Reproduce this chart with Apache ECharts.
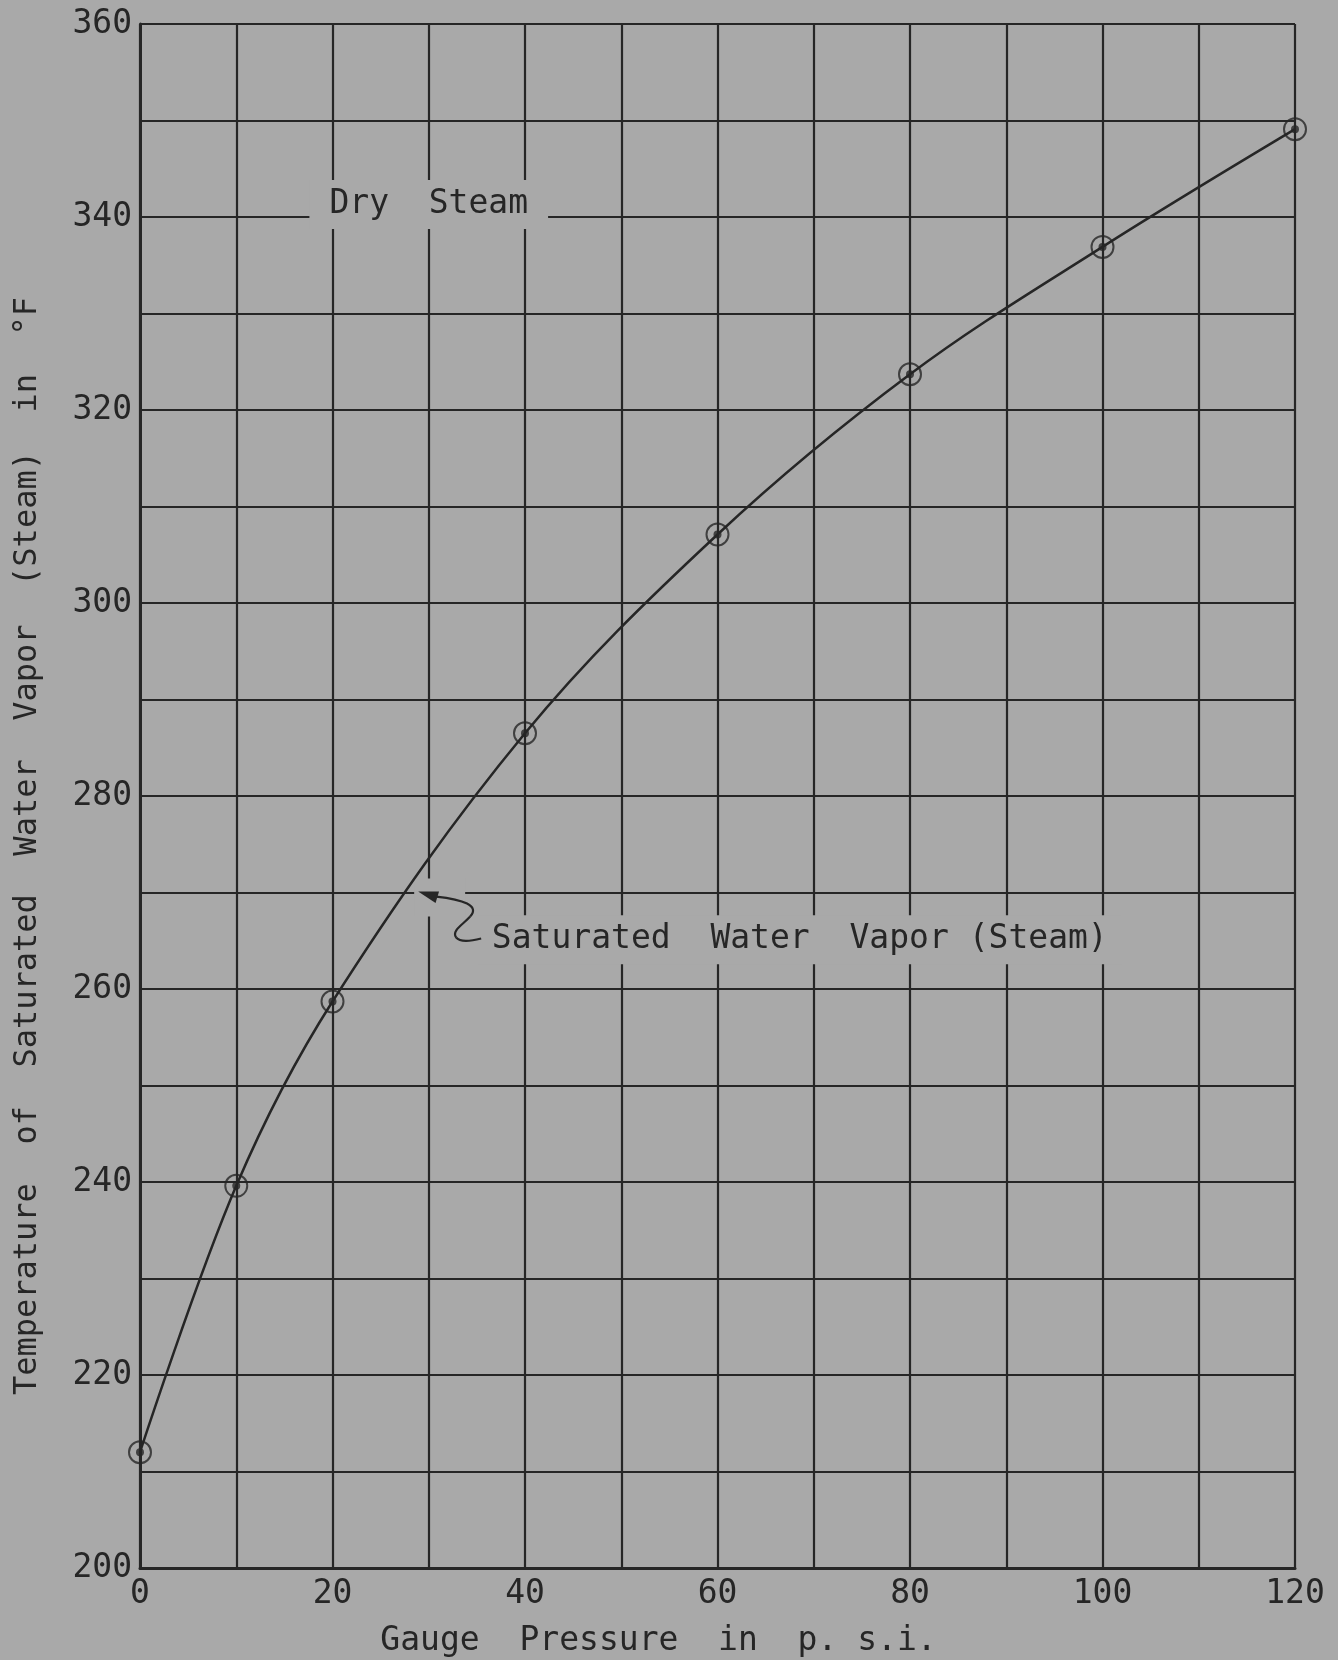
<!DOCTYPE html>
<html>
<head>
<meta charset="utf-8">
<title>Saturated Water Vapor</title>
<script src="https://cdn.jsdelivr.net/npm/echarts@6/dist/echarts.min.js"></script>
<style>
  html, body { margin: 0; padding: 0; background: #a9a9a9; }
  #chart { width: 1338px; height: 1660px; }
</style>
</head>
<body>
<div id="chart"></div>
<script>
// ---- data ----
const pressure = [0, 10, 20, 40, 60, 80, 100, 120];               // gauge pressure, p.s.i.
const temperature = [212, 239.6, 258.7, 286.5, 307.1, 323.7, 336.9, 349.1]; // deg F
const xTickValues = [0, 20, 40, 60, 80, 100, 120];
const yTickValues = [200, 220, 240, 260, 280, 300, 320, 340, 360];
const xTitle = 'Gauge  Pressure  in  p. s.i.';
const yTitle = 'Temperature  of  Saturated  Water  Vapor  (Steam)  in  °F';
const dryLabel = 'Dry  Steam';
const satLabel = 'Saturated  Water  Vapor (Steam)';

// annotation anchors (data coordinates)
const dryAnchor = [30, 341.3];
const satAnchor = [35.1, 265.1];
const arrowTip = [28.9, 270.1];

const ink = '#262626';
const paper = '#a9a9a9';
const font = '"DejaVu Sans Mono", "Liberation Mono", monospace';

const points = pressure.map((p, i) => [p, temperature[i]]);

const chart = echarts.init(document.getElementById('chart'), null, { renderer: 'canvas' });

const option = {
  backgroundColor: paper,
  animation: false,
  grid: { left: 140, right: 43, top: 24, bottom: 92, containLabel: false },
  xAxis: {
    type: 'value', min: 0, max: 120, interval: 10,
    axisLine: { show: true, onZero: false, lineStyle: { color: ink, width: 3 } },
    axisTick: { show: false },
    splitLine: { show: true, lineStyle: { color: ink, width: 2.2 } },
    axisLabel: {
      margin: 10, color: ink, fontFamily: font, fontSize: 33,
      formatter: v => (xTickValues.indexOf(v) >= 0 ? String(v) : '')
    }
  },
  yAxis: {
    type: 'value', min: 200, max: 360, interval: 10,
    axisLine: { show: true, onZero: false, lineStyle: { color: ink, width: 3 } },
    axisTick: { show: false },
    splitLine: { show: true, lineStyle: { color: ink, width: 2.2 } },
    axisLabel: {
      margin: 8, color: ink, fontFamily: font, fontSize: 33,
      formatter: v => (yTickValues.indexOf(v) >= 0 ? String(v) : '')
    }
  },
  series: [
    {
      type: 'line', data: points, smooth: 0.35,
      symbol: 'none', z: 5,
      lineStyle: { color: ink, width: 2.5 }
    },
    {
      type: 'scatter', data: points, symbol: 'circle', symbolSize: 22, z: 6,
      itemStyle: { color: 'rgba(0,0,0,0)', borderColor: ink, borderWidth: 2 }
    },
    {
      type: 'scatter', data: points, symbol: 'circle', symbolSize: 8, z: 7,
      itemStyle: { color: ink }
    }
  ]
};

chart.setOption(option);

function px(pt) { return chart.convertToPixel({ gridIndex: 0 }, pt); }

const dry = px(dryAnchor);
const sat = px(satAnchor);
const tip = px(arrowTip);
const plotLeft = px([0, 200]);
const plotRight = px([120, 360]);
const plotMidX = (plotLeft[0] + plotRight[0]) / 2;

// arrow head direction (from shaft toward tip)
const dirx = 0.957, diry = 0.29;
const hb = [tip[0] + 20 * dirx, tip[1] + 20 * diry];
const hp = [-diry * 6, dirx * 6];

function curve(a, c1, c2, b) {
  return { type: 'bezierCurve', z: 3,
    shape: { x1: tip[0] + a[0], y1: tip[1] + a[1],
             cpx1: tip[0] + c1[0], cpy1: tip[1] + c1[1],
             cpx2: tip[0] + c2[0], cpy2: tip[1] + c2[1],
             x2: tip[0] + b[0], y2: tip[1] + b[1] },
    style: { stroke: ink, lineWidth: 2.2, fill: null } };
}

chart.setOption({
  graphic: [
    // clearing behind the arrow
    { type: 'rect', z: 1, shape: { x: tip[0] - 4, y: tip[1] - 13, width: 51, height: 38 },
      style: { fill: paper } },
    { type: 'text', z: 2,
      style: { text: dryLabel, x: dry[0], y: dry[1], align: 'center', verticalAlign: 'middle',
               font: '33px ' + font, fill: ink, backgroundColor: paper, padding: [8, 20] } },
    { type: 'text', z: 2,
      style: { text: satLabel, x: sat[0], y: sat[1], align: 'left', verticalAlign: 'middle',
               font: '33px ' + font, fill: ink, backgroundColor: paper, padding: [8, 14] } },
    curve([18, 5], [45, 8], [62, 14], [52, 25]),
    curve([52, 25], [45, 33], [33, 39], [38, 46]),
    curve([38, 46], [42, 51], [55, 49], [63, 47]),
    { type: 'polygon', z: 3,
      shape: { points: [[tip[0], tip[1]], [hb[0] + hp[0], hb[1] + hp[1]], [hb[0] - hp[0], hb[1] - hp[1]]] },
      style: { fill: ink } },
    // axis titles
    { type: 'text', z: 2,
      x: 28, y: 846, rotation: Math.PI / 2,
      style: { text: yTitle, x: 0, y: 0, align: 'center', verticalAlign: 'middle',
               font: '32px ' + font, fill: ink } },
    { type: 'text', z: 2,
      style: { text: xTitle, x: plotMidX - 59, y: 1641, align: 'center', verticalAlign: 'middle',
               font: '33px ' + font, fill: ink } }
  ]
});
</script>
</body>
</html>
